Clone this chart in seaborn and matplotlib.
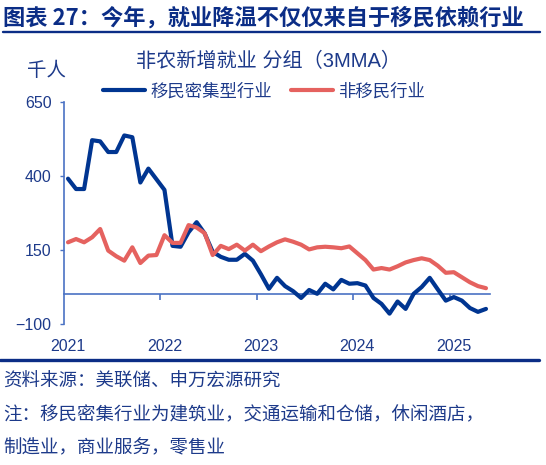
import numpy as np
import pandas as pd
import matplotlib
matplotlib.use('Agg')
import matplotlib.pyplot as plt
from matplotlib.lines import Line2D
import seaborn as sns

NAVY = '#0B2D86'
TEXT = '#1D3A8A'
AXIS = '#4A72C4'
BLUE = '#003591'
RED = '#E5625F'

# 2021-01 .. 2025-05, monthly, thousands (3MMA)
months = pd.date_range('2021-01-01', '2025-05-01', freq='MS')
migrant = [391, 356, 356, 521, 517, 481, 481, 537, 531, 378, 425, 389,
           353, 164, 161, 210, 244, 206, 144, 127, 117, 117, 137, 114,
           68, 19, 56, 28, 11, -12, 15, 2, 36, 17, 49, 36,
           38, 30, -12, -32, -65, -24, -49, 2, 25, 56, 17, -21,
           -9, -21, -46, -59, -49]
non_migrant = [176, 187, 176, 193, 221, 148, 129, 114, 159, 106, 131, 133,
               200, 174, 174, 234, 226, 207, 133, 164, 153, 168, 148, 168,
               146, 162, 176, 186, 178, 168, 152, 159, 161, 159, 156, 162,
               139, 116, 84, 89, 84, 95, 108, 116, 122, 116, 97, 73,
               75, 58, 41, 28, 21]
series_names = ['移民密集型行业', '非移民行业']
year_labels = ['2021', '2022', '2023', '2024', '2025']
y_ticks = [-100, 150, 400, 650]

df = pd.DataFrame({'idx': np.arange(len(months)), 'month': months,
                   'migrant': migrant, 'non_migrant': non_migrant})

sns.set_style('white')
plt.rcParams['font.family'] = ['Liberation Sans', 'Noto Sans CJK SC', 'DejaVu Sans']

fig = plt.figure(figsize=(5.46, 4.65), dpi=100, facecolor='white')
ax = fig.add_axes([64 / 546, 1 - 324 / 465, 426 / 546, 222 / 465])

sns.lineplot(data=df, x='idx', y='migrant', ax=ax, color=BLUE, linewidth=3.0,
             label=series_names[0])
sns.lineplot(data=df, x='idx', y='non_migrant', ax=ax, color=RED, linewidth=3.0,
             label=series_names[1])

ax.set_xlim(-0.5, len(months) - 0.5)
ax.set_ylim(-100, 650)
ax.set_xlabel('')
ax.set_ylabel('')

# y axis
ax.set_yticks(y_ticks)
ax.tick_params(axis='y', left=True, length=3, width=1, color=AXIS,
               labelcolor=TEXT, labelsize=11.5, pad=6)
for s in ['top', 'right', 'bottom']:
    ax.spines[s].set_visible(False)
ax.spines['left'].set_color(AXIS)
ax.spines['left'].set_linewidth(1.2)

# year labels at the bottom
year_pos = [df.index[months.year == int(y)][0] for y in year_labels]
ax.set_xticks(year_pos)
ax.set_xticklabels(year_labels)
ax.tick_params(axis='x', bottom=False, length=0, labelcolor=TEXT,
               labelsize=11.5, pad=11)

# zero line with year boundary ticks
zero_frac = (0 - (-100)) / 750
sec = ax.secondary_xaxis(zero_frac)
sec.set_xticks([p - 0.5 for p in year_pos[1:]])
sec.set_xticklabels([])
sec.tick_params(axis='x', direction='out', length=4, width=1.2, color=AXIS)
sec.spines['bottom'].set_color(AXIS)
sec.spines['bottom'].set_linewidth(1.2)

# legend on top
ax.legend(loc='center', bbox_to_anchor=(264 / 546, 1 - 91 / 465),
          bbox_transform=fig.transFigure, ncol=2, frameon=False,
          fontsize=12.5, handlelength=2.4, handletextpad=0.3,
          columnspacing=1.1, labelcolor=TEXT)

# texts
fig.text(3 / 546, 1 - 18 / 465, '图表 27：今年，就业降温不仅仅来自于移民依赖行业',
         fontsize=16, fontweight='bold', color=NAVY, va='center', ha='left',
         family=['Noto Sans CJK SC', 'DejaVu Sans'])
fig.text(268 / 546, 1 - 61 / 465, '非农新增就业 分组（3MMA）', fontsize=14.5,
         color=TEXT, va='center', ha='center')
fig.text(47 / 546, 1 - 71 / 465, '千人', fontsize=14, color=TEXT,
         va='center', ha='center')

notes = ['资料来源：美联储、申万宏源研究',
         '注：移民密集行业为建筑业，交通运输和仓储，休闲酒店，',
         '制造业，商业服务，零售业']
for k, (t, yy) in enumerate(zip(notes, [382, 415, 448])):
    fig.text(3 / 546, 1 - yy / 465, t, fontsize=13.3, color=TEXT,
             va='center', ha='left', family=['Noto Sans CJK SC', 'DejaVu Sans'])

# header and footer rules
fig.add_artist(Line2D([3 / 546, 540 / 546], [1 - 32 / 465] * 2,
                      color=NAVY, linewidth=1.7, transform=fig.transFigure))
fig.add_artist(Line2D([0, 539 / 546], [1 - 360 / 465] * 2,
                      color=NAVY, linewidth=2.4, transform=fig.transFigure))

fig.savefig('out.png', dpi=100, facecolor='white')
